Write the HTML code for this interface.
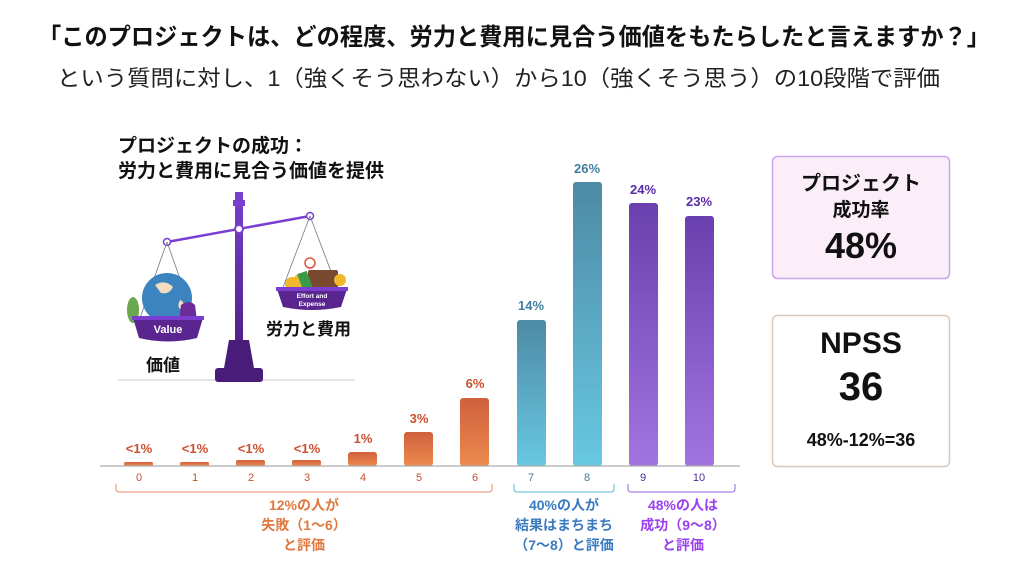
<!DOCTYPE html>
<html><head><meta charset="utf-8"><style>
html,body{margin:0;padding:0;background:#fff;}
svg{display:block;font-family:"Liberation Sans","Noto Sans CJK JP",sans-serif;}
</style></head><body>
<svg width="1024" height="576" viewBox="0 0 1024 576" xmlns="http://www.w3.org/2000/svg">
<defs>
<linearGradient id="gO" x1="0" y1="0" x2="0" y2="1"><stop offset="0" stop-color="#d0603d"/><stop offset="1" stop-color="#ec8a4e"/></linearGradient>
<linearGradient id="gB" x1="0" y1="0" x2="0" y2="1"><stop offset="0" stop-color="#4d8aa6"/><stop offset="1" stop-color="#68c8e2"/></linearGradient>
<linearGradient id="gP" x1="0" y1="0" x2="0" y2="1"><stop offset="0" stop-color="#6a40ae"/><stop offset="1" stop-color="#a274df"/></linearGradient>
<linearGradient id="gS" x1="0" y1="0" x2="0" y2="1"><stop offset="0" stop-color="#7a3fd0"/><stop offset="1" stop-color="#4a1c7a"/></linearGradient>
</defs>
<text x="38" y="45" font-size="24" font-weight="bold" fill="#111" textLength="952" lengthAdjust="spacingAndGlyphs">「このプロジェクトは、どの程度、労力と費用に見合う価値をもたらしたと言えますか？」</text>
<text x="57" y="86" font-size="22" fill="#222" textLength="883" lengthAdjust="spacingAndGlyphs">という質問に対し、1（強くそう思わない）から10（強くそう思う）の10段階で評価</text>

<text x="118" y="152" font-size="19" font-weight="bold" fill="#111">プロジェクトの成功：</text>
<text x="118" y="177" font-size="19" font-weight="bold" fill="#111">労力と費用に見合う価値を提供</text>

<!-- scale -->
<line x1="118" y1="380" x2="355" y2="380" stroke="#e4e4e4" stroke-width="2"/>
<rect x="235" y="192" width="8" height="180" fill="url(#gS)"/>
<rect x="233" y="200" width="12" height="6" fill="#7a3fd0"/>
<path d="M229 340 L249 340 L254 368 L224 368 Z" fill="#4a1c7a"/>
<rect x="215" y="368" width="48" height="14" rx="3" fill="#4a1c7a"/>
<line x1="167" y1="242" x2="310" y2="216" stroke="#7a3fd0" stroke-width="2.5"/>
<circle cx="239" cy="229" r="4" fill="#fff" stroke="#7a3fd0" stroke-width="2"/>
<circle cx="167" cy="242" r="3.5" fill="#fff" stroke="#7a3fd0" stroke-width="1.5"/>
<circle cx="310" cy="216" r="3.5" fill="#fff" stroke="#7a3fd0" stroke-width="1.5"/>
<line x1="167" y1="242" x2="140" y2="318" stroke="#778" stroke-width="0.8"/>
<line x1="167" y1="242" x2="194" y2="318" stroke="#778" stroke-width="0.8"/>
<line x1="310" y1="216" x2="282" y2="290" stroke="#778" stroke-width="0.8"/>
<line x1="310" y1="216" x2="338" y2="290" stroke="#778" stroke-width="0.8"/>
<ellipse cx="133" cy="310" rx="6" ry="13" fill="#6aa84f"/>
<circle cx="167" cy="298" r="25" fill="#3b84c0"/>
<path d="M155 285 q10 -6 18 2 q-4 8 -12 6 z" fill="#f4dcc0"/>
<path d="M180 300 q6 2 2 10 q-6 -2 -2 -10z" fill="#f4dcc0"/>
<path d="M181 305 q8 -6 14 0 l2 16 h-18 z" fill="#6b2c9a"/>
<path d="M133 318 L203 318 L197 338 Q168 345 139 338 Z" fill="#5b2590"/>
<rect x="132" y="316" width="72" height="4" fill="#7a3fd0"/>
<text x="168" y="333" font-size="11" font-weight="bold" fill="#fff" text-anchor="middle">Value</text>
<circle cx="302" cy="282" r="9" fill="#f0b82a"/>
<circle cx="292" cy="284" r="7" fill="#f0b82a"/>
<rect x="308" y="270" width="30" height="20" rx="2" fill="#7a4a30"/>
<rect x="300" y="272" width="10" height="18" fill="#3a9a4a" transform="rotate(-20 305 281)"/>
<circle cx="310" cy="263" r="5" fill="#fff" stroke="#e05040" stroke-width="1.5"/>
<circle cx="340" cy="280" r="6" fill="#f0b82a"/>
<path d="M277 289 L347 289 L341 307 Q312 313 283 307 Z" fill="#5b2590"/>
<rect x="276" y="287" width="72" height="4" fill="#7a3fd0"/>
<text x="312" y="298" font-size="6.5" font-weight="bold" fill="#fff" text-anchor="middle">Effort and</text>
<text x="312" y="306" font-size="6.5" font-weight="bold" fill="#fff" text-anchor="middle">Expense</text>
<text x="266" y="335" font-size="17" font-weight="bold" fill="#111">労力と費用</text>
<text x="146" y="371" font-size="17" font-weight="bold" fill="#111">価値</text>

<!-- bars -->
<g>
<rect x="124" y="462" width="29" height="4" rx="1.5" fill="url(#gO)"/>
<rect x="180" y="462" width="29" height="4" rx="1.5" fill="url(#gO)"/>
<rect x="236" y="460" width="29" height="6" rx="2" fill="url(#gO)"/>
<rect x="292" y="460" width="29" height="6" rx="2" fill="url(#gO)"/>
<rect x="348" y="452" width="29" height="14" rx="3" fill="url(#gO)"/>
<rect x="404" y="432" width="29" height="34" rx="3" fill="url(#gO)"/>
<rect x="460" y="398" width="29" height="68" rx="3" fill="url(#gO)"/>
<rect x="517" y="320" width="29" height="146" rx="3" fill="url(#gB)"/>
<rect x="573" y="182" width="29" height="284" rx="3" fill="url(#gB)"/>
<rect x="629" y="203" width="29" height="263" rx="3" fill="url(#gP)"/>
<rect x="685" y="216" width="29" height="250" rx="3" fill="url(#gP)"/>
</g>
<line x1="100" y1="466" x2="740" y2="466" stroke="#aaa" stroke-width="1.2"/>
<g font-size="13" font-weight="bold" text-anchor="middle">
<g fill="#c9502f">
<text x="139" y="453">&lt;1%</text><text x="195" y="453">&lt;1%</text><text x="251" y="453">&lt;1%</text><text x="307" y="453">&lt;1%</text>
<text x="363" y="443">1%</text><text x="419" y="423">3%</text><text x="475" y="388">6%</text>
</g>
<text x="531" y="310" fill="#3f7e9e">14%</text>
<text x="587" y="173" fill="#3f7e9e">26%</text>
<text x="643" y="194" fill="#5a2aa8">24%</text>
<text x="699" y="206" fill="#5a2aa8">23%</text>
</g>
<g font-size="11" text-anchor="middle">
<g fill="#c9502f"><text x="139" y="481">0</text><text x="195" y="481">1</text><text x="251" y="481">2</text><text x="307" y="481">3</text><text x="363" y="481">4</text><text x="419" y="481">5</text><text x="475" y="481">6</text></g>
<g fill="#3f7e9e"><text x="531" y="481">7</text><text x="587" y="481">8</text></g>
<g fill="#4a2a90"><text x="643" y="481">9</text><text x="699" y="481">10</text></g>
</g>
<path d="M116 484 v5 q0 3 3 3 h370 q3 0 3 -3 v-5" fill="none" stroke="#e88a60" stroke-width="1"/>
<path d="M514 484 v5 q0 3 3 3 h94 q3 0 3 -3 v-5" fill="none" stroke="#5ab8d8" stroke-width="1"/>
<path d="M628 484 v5 q0 3 3 3 h101 q3 0 3 -3 v-5" fill="none" stroke="#9a60e0" stroke-width="1"/>
<g font-size="14" font-weight="bold" text-anchor="middle">
<g fill="#e07840"><text x="304" y="510">12%の人が</text><text x="304" y="530">失敗（1〜6）</text><text x="304" y="550">と評価</text></g>
<g fill="#3a7ac0"><text x="564" y="510">40%の人が</text><text x="564" y="530">結果はまちまち</text><text x="564" y="550">（7〜8）と評価</text></g>
<g fill="#9a40f0"><text x="683" y="510">48%の人は</text><text x="683" y="530">成功（9〜8）</text><text x="683" y="550">と評価</text></g>
</g>

<!-- boxes -->
<rect x="772.5" y="156.5" width="177" height="122" rx="5" fill="#fbeef8" stroke="#c9a4f0" stroke-width="1.5"/>
<text x="861" y="190" font-size="20" font-weight="bold" text-anchor="middle" fill="#111">プロジェクト</text>
<text x="861" y="216" font-size="19" font-weight="bold" text-anchor="middle" fill="#111">成功率</text>
<text x="861" y="258" font-size="36" font-weight="bold" text-anchor="middle" fill="#111">48%</text>
<rect x="772.5" y="315.5" width="177" height="151" rx="5" fill="#fff" stroke="#dcc8b8" stroke-width="1.5"/>
<text x="861" y="353" font-size="30" font-weight="bold" text-anchor="middle" fill="#111">NPSS</text>
<text x="861" y="400" font-size="40" font-weight="bold" text-anchor="middle" fill="#111">36</text>
<text x="861" y="446" font-size="18" font-weight="bold" text-anchor="middle" fill="#111">48%-12%=36</text>
</svg>
</body></html>
